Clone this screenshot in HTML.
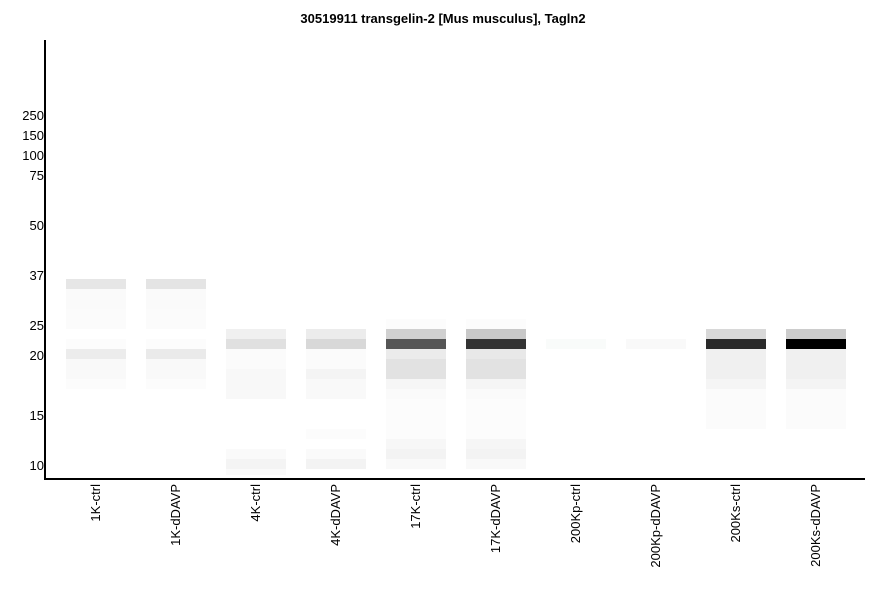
<!DOCTYPE html>
<html><head><style>
body{margin:0;background:#fff;width:886px;height:595px;position:relative;overflow:hidden;font-family:"Liberation Sans",Arial,sans-serif}
.t{position:absolute;top:11px;left:0;width:886px;text-align:center;font-weight:bold;font-size:13px}
.y{position:absolute;right:842px;font-size:13px;line-height:14px}
.b{position:absolute;height:10px;width:60px}
.x{position:absolute;top:484px;font-size:13px;writing-mode:vertical-rl;transform:rotate(180deg);line-height:14px}
</style></head><body>
<div class="t">30519911 transgelin-2 [Mus musculus], Tagln2</div>
<div style="position:absolute;left:44px;top:40px;width:2px;height:440px;background:#000"></div>
<div style="position:absolute;left:44px;top:478px;width:821px;height:2px;background:#000"></div>
<div class="y" style="top:109px">250</div><div class="y" style="top:129px">150</div><div class="y" style="top:149px">100</div><div class="y" style="top:169px">75</div><div class="y" style="top:219px">50</div><div class="y" style="top:269px">37</div><div class="y" style="top:319px">25</div><div class="y" style="top:349px">20</div><div class="y" style="top:409px">15</div><div class="y" style="top:459px">10</div>
<div id="g"></div>
<script>
var L=[66,146,226,306,386,466,546,626,706,786];
var B=[
[[279,10,'#e6e6e6'],[289,20,'#fafafa'],[309,20,'#fbfbfb'],[339,10,'#fcfcfc'],[349,10,'#ececec'],[359,20,'#f9f9f9'],[379,10,'#fcfcfc']],
[[279,10,'#e4e4e4'],[289,20,'#fafafa'],[309,20,'#fbfbfb'],[339,10,'#fcfcfc'],[349,10,'#eaeaea'],[359,20,'#f9f9f9'],[379,10,'#fcfcfc']],
[[329,10,'#f0f0f0'],[339,10,'#e0e0e0'],[349,20,'#fbfbfb'],[369,30,'#f8f8f8'],[449,10,'#fafafa'],[459,10,'#f4f4f4'],[469,6,'#fafafa']],
[[329,10,'#ececec'],[339,10,'#d8d8d8'],[349,20,'#fbfbfb'],[369,10,'#f4f4f4'],[379,20,'#f9f9f9'],[429,10,'#fcfcfc'],[449,10,'#fafafa'],[459,10,'#f3f3f3']],
[[319,10,'#fcfcfc'],[329,10,'#d0d0d0'],[339,10,'#555555'],[349,10,'#ebebeb'],[359,20,'#e2e2e2'],[379,10,'#f6f6f6'],[389,10,'#fafafa'],[399,40,'#fcfcfc'],[439,10,'#f7f7f7'],[449,10,'#f3f3f3'],[459,10,'#f9f9f9']],
[[319,10,'#fcfcfc'],[329,10,'#c8c8c8'],[339,10,'#333333'],[349,10,'#e8e8e8'],[359,20,'#e2e2e2'],[379,10,'#f5f5f5'],[389,10,'#fafafa'],[399,40,'#fcfcfc'],[439,10,'#f6f6f6'],[449,10,'#f3f3f3'],[459,10,'#f9f9f9']],
[[339,10,'#f9fbfa']],
[[339,10,'#f9f9f9']],
[[329,10,'#d8d8d8'],[339,10,'#2a2a2a'],[349,30,'#f0f0f0'],[379,10,'#f5f5f5'],[389,40,'#fbfbfb']],
[[329,10,'#cccccc'],[339,10,'#000000'],[349,30,'#f0f0f0'],[379,10,'#f4f4f4'],[389,40,'#fbfbfb']]
];
var N=['1K-ctrl','1K-dDAVP','4K-ctrl','4K-dDAVP','17K-ctrl','17K-dDAVP','200Kp-ctrl','200Kp-dDAVP','200Ks-ctrl','200Ks-dDAVP'];
var h='';
for(var i=0;i<10;i++){B[i].forEach(function(b){h+='<div class="b" style="left:'+L[i]+'px;top:'+b[0]+'px;height:'+b[1]+'px;background:'+b[2]+'"></div>'});
h+='<div class="x" style="left:'+(L[i]+23)+'px">'+N[i]+'</div>';}
document.getElementById('g').innerHTML=h;
</script>
</body></html>
